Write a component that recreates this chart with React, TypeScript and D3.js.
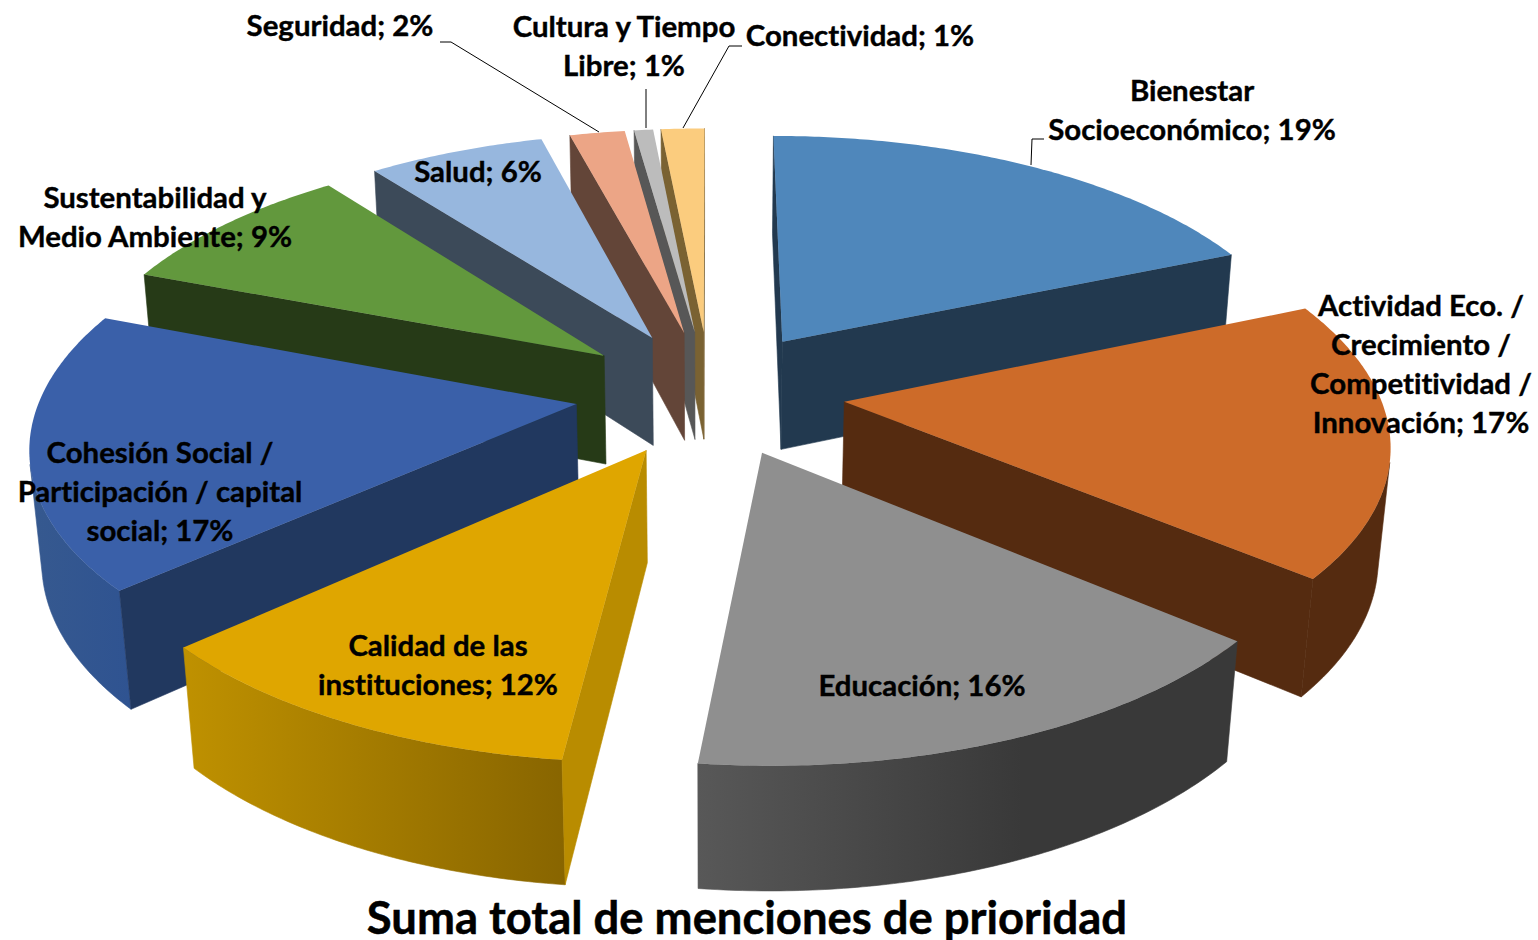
import React from "react";
import * as d3 from "d3";

// ---- data ----
const categories = [
  "Bienestar Socioeconómico",
  "Actividad Eco. / Crecimiento / Competitividad / Innovación",
  "Educación",
  "Calidad de las instituciones",
  "Cohesión Social / Participación / capital social",
  "Sustentabilidad y Medio Ambiente",
  "Salud",
  "Seguridad",
  "Cultura y Tiempo Libre",
  "Conectividad",
];
const percentLabels = [19, 17, 16, 12, 17, 9, 6, 2, 1, 1];
const sliceShares = [18.6, 17.45, 15.75, 11.53, 17.5, 8.77, 6.25, 1.95, 0.67, 1.53];

// ---- styles ----
const topColors = ["#4f87bb", "#cd6b29", "#8f8f8f", "#dfa600", "#3a60a9", "#62983d", "#97b7de", "#eca586", "#bcbcbc", "#fbcc7e"];
const faceColors = ["#22394f", "#552b10", "#3a3a3a", "#b98c00", "#21385f", "#263a17", "#3c4a59", "#634538", "#575757", "#7a6232"];
const rimLeft = ["#22394f", "#552b10", "#585858", "#bf9100", "#36598f", "#263a17", "#3c4a59", "#634538", "#575757", "#7a6232"];
const rimRight = ["#22394f", "#552b10", "#393939", "#886500", "#2f5391", "#263a17", "#3c4a59", "#634538", "#575757", "#7a6232"];
const rimRightStop = [1, 1, 0.6, 1, 1, 1, 1, 1, 1, 1];
const paintOrder = [9, 8, 7, 6, 5, 0, 1, 4, 2, 3];

// ---- label layout ----
const labelLines = [
  ["Bienestar", "Socioeconómico; 19%"],
  ["Actividad Eco. /", "Crecimiento /", "Competitividad /", "Innovación; 17%"],
  ["Educación; 16%"],
  ["Calidad de las", "instituciones; 12%"],
  ["Cohesión Social /", "Participación / capital", "social; 17%"],
  ["Sustentabilidad y", "Medio Ambiente; 9%"],
  ["Salud; 6%"],
  ["Seguridad; 2%"],
  ["Cultura y Tiempo", "Libre; 1%"],
  ["Conectividad; 1%"],
];
const labelCenterX = [1192, 1421, 922, 438, 160, 155, 478, 340, 624, 860];
const labelFirstBaseline = [101, 316, 696, 656, 463, 208, 182, 36, 37, 46];
const leaderLines: [number, number][][] = [
  [[1044, 139], [1032, 139], [1031, 165]],
  [[440, 42], [451, 42], [599, 132]],
  [[646, 89], [646, 128]],
  [[742, 46], [729, 46], [683, 128]],
];
const LINE_STEP = 39;
const LABEL_SIZE = 29.4;
const TITLE = "Suma total de menciones de prioridad";

// ---- projection of the tilted pie ----
const CX = 710, CY = 392.5, SX = 540, SY = 251.3, SZ = 112, PY = 0.145, PZ = 0.018;
const EXPLODE = 0.25, RADIUS = 0.99;
type P = [number, number];
const project = (x: number, y: number, z: number): P => {
  const w = 1 - PY * y - PZ * z;
  return [CX + (SX * x) / w, CY + (SY * y - SZ * z) / w];
};
const polarX = (a: number) => RADIUS * Math.sin(a);
const polarY = (a: number) => -RADIUS * Math.cos(a);
const line = d3.line<P>();

export default function App() {
  const arcs = d3.pie<number>().sort(null).startAngle(0).endAngle(2 * Math.PI)(sliceShares);

  const slices = arcs.map((a, i) => {
    const mid = (a.startAngle + a.endAngle) / 2;
    const ox = (EXPLODE / RADIUS) * polarX(mid);
    const oy = (EXPLODE / RADIUS) * polarY(mid);
    const steps = Math.max(2, Math.ceil((a.endAngle - a.startAngle) / 0.01));
    const angles = d3.range(steps + 1).map((k) => a.startAngle + ((a.endAngle - a.startAngle) * k) / steps);
    const top = angles.map((t) => project(ox + polarX(t), oy + polarY(t), 0));
    const bot = angles.map((t) => project(ox + polarX(t), oy + polarY(t), -1));
    const apexTop = project(ox, oy, 0);
    const apexBot = project(ox, oy, -1);
    const startFace: P[] = [apexTop, top[0], bot[0], apexBot];
    const endFace: P[] = [apexTop, top[steps], bot[steps], apexBot];
    const faces: P[][] = [];
    if (d3.polygonArea(startFace) > 0) faces.push(startFace);
    if (d3.polygonArea(endFace) < 0) faces.push(endFace);
    const rims: P[][] = [];
    let run: number[] = [];
    for (let k = 0; k < steps; k++) {
      const vis = d3.polygonArea([top[k], top[k + 1], bot[k + 1], bot[k]]) > 0;
      if (vis) {
        if (!run.length) run.push(k);
        run.push(k + 1);
      }
      if ((!vis || k === steps - 1) && run.length) {
        rims.push([...run.map((j) => top[j]), ...run.slice().reverse().map((j) => bot[j])]);
        run = [];
      }
    }
    const xs = rims.flat().map((p) => p[0]);
    const x0 = xs.length ? d3.min(xs)! : 0;
    const x1 = xs.length ? d3.max(xs)! : 1;
    return { i, top, apexTop, faces, rims, x0, x1 };
  });

  return (
    <svg
      width={1538}
      height={940}
      style={{ position: "absolute", left: 0, top: 0, background: "#fff", fontVariantLigatures: "none" }}
      fontFamily="Lato, 'Open Sans', sans-serif"
      fontWeight={700}
    >
      <defs>
        {slices.map((s) => (
          <linearGradient key={s.i} id={`rim${s.i}`} gradientUnits="userSpaceOnUse" x1={s.x0} x2={s.x1} y1={0} y2={0}>
            <stop offset="0" stopColor={rimLeft[s.i]} />
            <stop offset={rimRightStop[s.i]} stopColor={rimRight[s.i]} />
          </linearGradient>
        ))}
      </defs>
      {paintOrder.map((idx) => {
        const s = slices[idx];
        return (
          <g key={idx} data-name={categories[idx]} data-value={percentLabels[idx]}>
            {s.rims.map((r, k) => (
              <path key={k} d={line(r) + "Z"} fill={`url(#rim${idx})`} stroke={`url(#rim${idx})`} strokeWidth={0.6} />
            ))}
            {s.faces.map((f, k) => (
              <path key={k} d={line(f) + "Z"} fill={faceColors[idx]} stroke={faceColors[idx]} strokeWidth={0.6} />
            ))}
            <path d={line([s.apexTop, ...s.top]) + "Z"} fill={topColors[idx]} />
          </g>
        );
      })}
      {leaderLines.map((l, k) => (
        <path key={k} d={line(l) ?? ""} fill="none" stroke="#000" strokeWidth={1} />
      ))}
      {labelLines.map((lines, i) =>
        lines.map((t, j) => (
          <text key={`${i}-${j}`} x={labelCenterX[i]} y={labelFirstBaseline[i] + j * LINE_STEP} textAnchor="middle" fontSize={LABEL_SIZE} fill="#000" stroke="#000" strokeWidth={0.4}>
            {t}
          </text>
        ))
      )}
      <text x={747} y={934} textAnchor="middle" fontSize={45.4} fill="#000" stroke="#000" strokeWidth={0.5}>
        {TITLE}
      </text>
    </svg>
  );
}
